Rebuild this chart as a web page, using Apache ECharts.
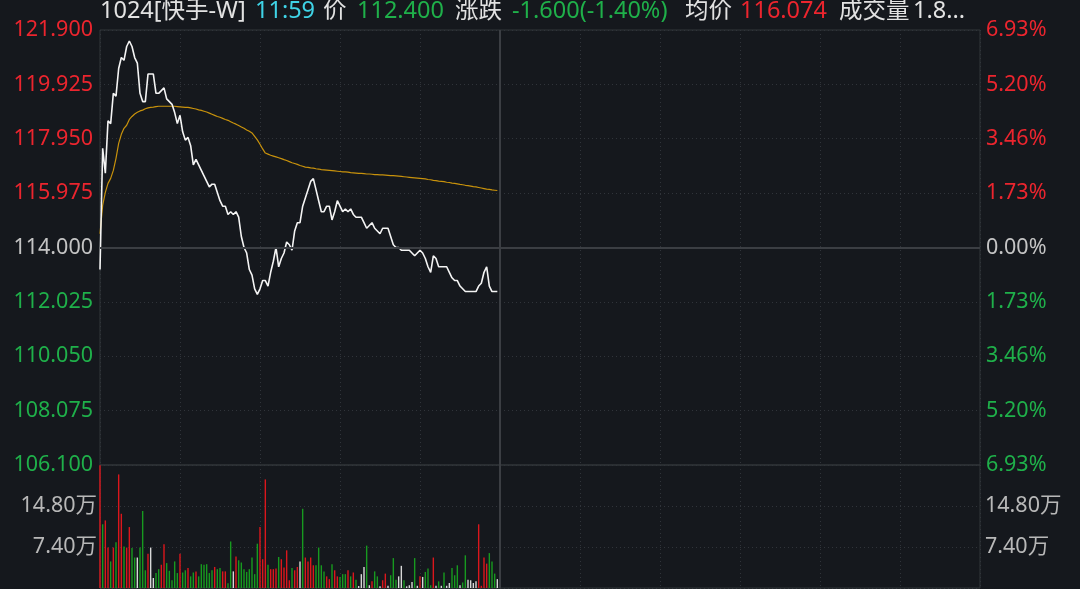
<!DOCTYPE html>
<html><head><meta charset="utf-8">
<script src="https://cdn.jsdelivr.net/npm/echarts@6/dist/echarts.min.js"></script>
<style>html,body{margin:0;padding:0;background:#15181d;}#c{width:1080px;height:589px;}</style>
</head><body><div id="c"></div><script>
// ---- header texts ----
const headerTexts = ['1024[快手-W]', '11:59', '价', '112.400', '涨跌', '-1.600(-1.40%)', '均价', '116.074', '成交量', '1.8...'];
const headerKinds = ['w', 'c', 'w', 'g', 'w', 'g', 'w', 'r', 'w', 'w'];

// ---- reference values ----
const prevClose = 114.000;
const sessionMinutes = 330;      // 09:30-12:00 + 13:00-16:00
const middayIndex = 150;         // 12:00 break

// minute prices 09:30 .. 11:59
const prices = [
  113.2,117.6,116.7,118.6,118.5,119.6,119.5,120.5,120.9,120.8,
  121.3,121.5,121.3,120.9,120.7,119.6,119.3,119.3,120.3,120.3,
  120.3,119.6,119.6,119.7,119.8,119.4,119.3,119.2,118.9,118.5,
  118.8,118.2,117.9,118.0,117.7,117.0,117.2,117.0,116.8,116.6,
  116.4,116.2,116.3,116.3,116.0,115.7,115.5,115.5,115.2,115.3,
  115.2,115.3,115.1,114.4,114.0,113.8,113.2,113.0,112.5,112.3,
  112.5,112.8,112.8,112.6,113.1,113.5,114.0,113.3,113.6,113.8,
  114.2,114.1,113.9,114.6,114.9,114.9,115.5,115.8,116.1,116.4,
  116.5,116.1,115.7,115.3,115.3,115.5,115.5,115.0,115.3,115.7,
  115.5,115.3,115.4,115.3,115.4,115.2,115.1,115.1,115.1,114.9,
  114.7,114.8,114.9,114.7,114.6,114.5,114.7,114.7,114.7,114.4,
  114.1,114.0,114.0,113.9,113.9,113.9,113.9,113.8,113.7,113.8,
  113.9,113.8,113.6,113.3,113.1,113.7,113.6,113.3,113.3,113.3,
  113.3,113.1,112.9,112.8,112.8,112.6,112.5,112.4,112.4,112.4,
  112.4,112.4,112.6,112.7,113.1,113.3,112.6,112.4,112.4,112.4
];

// running average price
const avgPrices = [
  114.50,115.53,116.00,116.33,116.51,116.80,117.24,117.78,118.11,118.33,
  118.44,118.65,118.76,118.85,118.91,118.96,118.99,119.04,119.07,119.09,
  119.10,119.12,119.13,119.13,119.13,119.13,119.13,119.13,119.13,119.12,
  119.11,119.10,119.09,119.09,119.07,119.05,119.03,119.00,118.98,118.95,
  118.92,118.88,118.84,118.80,118.76,118.73,118.69,118.65,118.62,118.57,
  118.52,118.48,118.43,118.38,118.33,118.27,118.22,118.16,118.04,117.91,
  117.75,117.58,117.43,117.39,117.35,117.32,117.29,117.26,117.23,117.19,
  117.16,117.12,117.08,117.05,117.02,116.98,116.95,116.92,116.91,116.89,
  116.88,116.86,116.85,116.83,116.82,116.81,116.80,116.79,116.78,116.77,
  116.76,116.75,116.75,116.74,116.72,116.71,116.70,116.69,116.69,116.68,
  116.67,116.67,116.66,116.65,116.65,116.64,116.64,116.63,116.62,116.61,
  116.61,116.60,116.59,116.58,116.57,116.56,116.55,116.54,116.53,116.52,
  116.51,116.50,116.49,116.47,116.46,116.44,116.43,116.41,116.40,116.39,
  116.37,116.36,116.34,116.33,116.31,116.29,116.28,116.26,116.25,116.23,
  116.21,116.20,116.18,116.16,116.14,116.12,116.11,116.09,116.08,116.07
];

// minute volumes (万)
const volumes = [
  22.15,11.5,12.2,7.3,4.8,7.3,8.25,20.5,13.4,7.5,
  7.3,11.0,7.2,5.5,5.5,7.3,13.9,3.2,6.2,7.3,
  1.8,2.7,3.4,4.2,7.9,4.5,3.1,1.4,4.8,2.7,
  6.2,2.8,3.2,3.6,2.1,2.8,3.0,2.1,4.3,4.2,
  4.3,2.7,3.2,3.8,3.4,3.6,3.0,3.0,0.85,8.4,
  3.0,5.7,5.0,4.6,3.4,2.9,3.4,5.5,2.5,8.0,
  11.0,5.2,19.6,4.2,3.4,3.4,3.5,5.6,5.2,3.7,
  6.8,1.4,3.6,3.2,3.8,4.8,14.3,5.5,4.8,5.5,
  4.1,4.1,7.3,4.1,3.0,2.1,1.6,4.3,3.2,2.1,
  2.0,2.5,2.5,3.2,2.1,2.8,1.5,0.36,2.5,3.8,
  7.65,0.5,1.2,3.0,2.1,0.3,1.4,2.6,0.4,2.3,
  5.4,1.5,2.1,4.0,1.4,0.3,0.5,1.1,5.4,0.4,
  2.1,2.0,2.9,3.5,0.5,5.5,0.4,1.2,0.4,2.8,
  0.4,0.9,3.6,2.3,4.1,0.5,1.0,5.9,1.5,1.4,
  0.9,1.2,11.5,0.4,5.5,4.4,6.3,4.8,2.6,1.6
];
// bar direction per minute: r = up, g = down, w = flat
const volumeDirs = [
  'rgrrgrgrrg','rrggwgggrw','wggrrggggg','rggrggrggg','gggrggrrgg',
  'wrgggggggg','rrrgrrrgrr','rrgrrwgrrr','rggggrrgrr','gggrgrgwww',
  'gwrggwrrwg','ggwwgwwwgw','rwgggrwgwg','wwgggwggww','wwrrrrgggw'
].join('');

const volTicks = { min: 0, max: 22.2, interval: 7.4 };
const priceSpan = { min: -7.9, max: 7.9, interval: 1.975 }; // offset from prevClose

// ---- colours / style ----
const RED = '#ec252e', GREEN = '#1fb04a', GRAY = '#c4c4c4';
const kindColor = { w: '#e2e2e2', c: '#3fd3e6', g: GREEN, r: RED };
const dirColor = { r: '#dc161c', g: '#179a1f', w: '#d8d8d8' };
const FONT = "'Noto Sans','Noto Sans CJK SC',sans-serif";
const headerX = [100, 255, 323, 357, 455, 512, 685, 740, 839, 913];

function signColor(v) { v = parseFloat(v); return v > 1e-6 ? RED : (v < -1e-6 ? GREEN : GRAY); }

const priceData = prices.map((p, i) => [i, +(p - prevClose).toFixed(4)]);
const avgData = avgPrices.map((p, i) => [i, +(p - prevClose).toFixed(4)]);
const volData = volumes.map((v, i) => ({ value: [i, v], itemStyle: { color: dirColor[volumeDirs[i]] } }));

const gridLine = { show: true, lineStyle: { color: '#30343a', type: [1, 3], width: 1 } };
const LABEL_FS = 21.5;

const chart = echarts.init(document.getElementById('c'), null, { renderer: 'canvas' });
chart.setOption({
  backgroundColor: '#15181d',
  animation: false,
  graphic: headerTexts.map((t, i) => ({
    type: 'text', left: headerX[i], top: 0, silent: true,
    style: { text: t, fill: kindColor[headerKinds[i]], font: '23.5px ' + FONT }
  })),
  grid: [
    { left: 100, right: 100, top: 30, height: 435, show: true, borderColor: '#33363b', borderWidth: 1 },
    { left: 100, right: 100, top: 465, height: 123, show: true, borderColor: '#33363b', borderWidth: 1 }
  ],
  xAxis: [
    { type: 'value', gridIndex: 0, min: 0, max: sessionMinutes, interval: 30,
      axisLine: { show: false }, axisTick: { show: false }, axisLabel: { show: false }, splitLine: gridLine },
    { type: 'value', gridIndex: 1, min: 0, max: sessionMinutes, interval: 30,
      axisLine: { show: false }, axisTick: { show: false }, axisLabel: { show: false }, splitLine: gridLine }
  ],
  yAxis: [
    { type: 'value', gridIndex: 0, position: 'left', min: priceSpan.min, max: priceSpan.max, interval: priceSpan.interval,
      axisLine: { show: false }, axisTick: { show: false }, splitLine: gridLine,
      axisLabel: { margin: 7, fontFamily: FONT, fontSize: LABEL_FS,
        formatter: v => (prevClose + v).toFixed(3), color: v => signColor(v) } },
    { type: 'value', gridIndex: 0, position: 'right', min: priceSpan.min, max: priceSpan.max, interval: priceSpan.interval,
      axisLine: { show: false }, axisTick: { show: false }, splitLine: { show: false },
      axisLabel: { margin: 6, fontFamily: FONT, fontSize: LABEL_FS,
        formatter: v => (Math.abs(v) / prevClose * 100).toFixed(2) + '%', color: v => signColor(v) } },
    { type: 'value', gridIndex: 1, position: 'left', min: volTicks.min, max: volTicks.max, interval: volTicks.interval,
      axisLine: { show: false }, axisTick: { show: false }, splitLine: gridLine,
      axisLabel: { margin: 3, fontFamily: FONT, fontSize: LABEL_FS, color: '#b8b8b8',
        formatter: v => (v < 0.01 || v > volTicks.max - 0.01) ? '' : v.toFixed(2) + '万' } },
    { type: 'value', gridIndex: 1, position: 'right', min: volTicks.min, max: volTicks.max, interval: volTicks.interval,
      axisLine: { show: false }, axisTick: { show: false }, splitLine: { show: false },
      axisLabel: { margin: 5, fontFamily: FONT, fontSize: LABEL_FS, color: '#b8b8b8',
        formatter: v => (v < 0.01 || v > volTicks.max - 0.01) ? '' : v.toFixed(2) + '万' } }
  ],
  series: [
    { type: 'line', xAxisIndex: 0, yAxisIndex: 0, data: avgData, showSymbol: false, z: 3,
      lineStyle: { color: '#c8920c', width: 1.2 },
      markLine: { silent: true, symbol: 'none', label: { show: false },
        lineStyle: { color: '#3b3e43', type: 'solid', width: 2 },
        data: [{ yAxis: 0 }, { xAxis: middayIndex }] } },
    { type: 'line', xAxisIndex: 0, yAxisIndex: 0, data: priceData, showSymbol: false, z: 4,
      lineStyle: { color: '#f4f4f4', width: 1.6 } },
    { type: 'bar', xAxisIndex: 1, yAxisIndex: 2, data: volData, barWidth: 1.4,
      markLine: { silent: true, symbol: 'none', label: { show: false },
        lineStyle: { color: '#3b3e43', type: 'solid', width: 2 },
        data: [{ xAxis: middayIndex }] } }
  ]
});
</script></body></html>
